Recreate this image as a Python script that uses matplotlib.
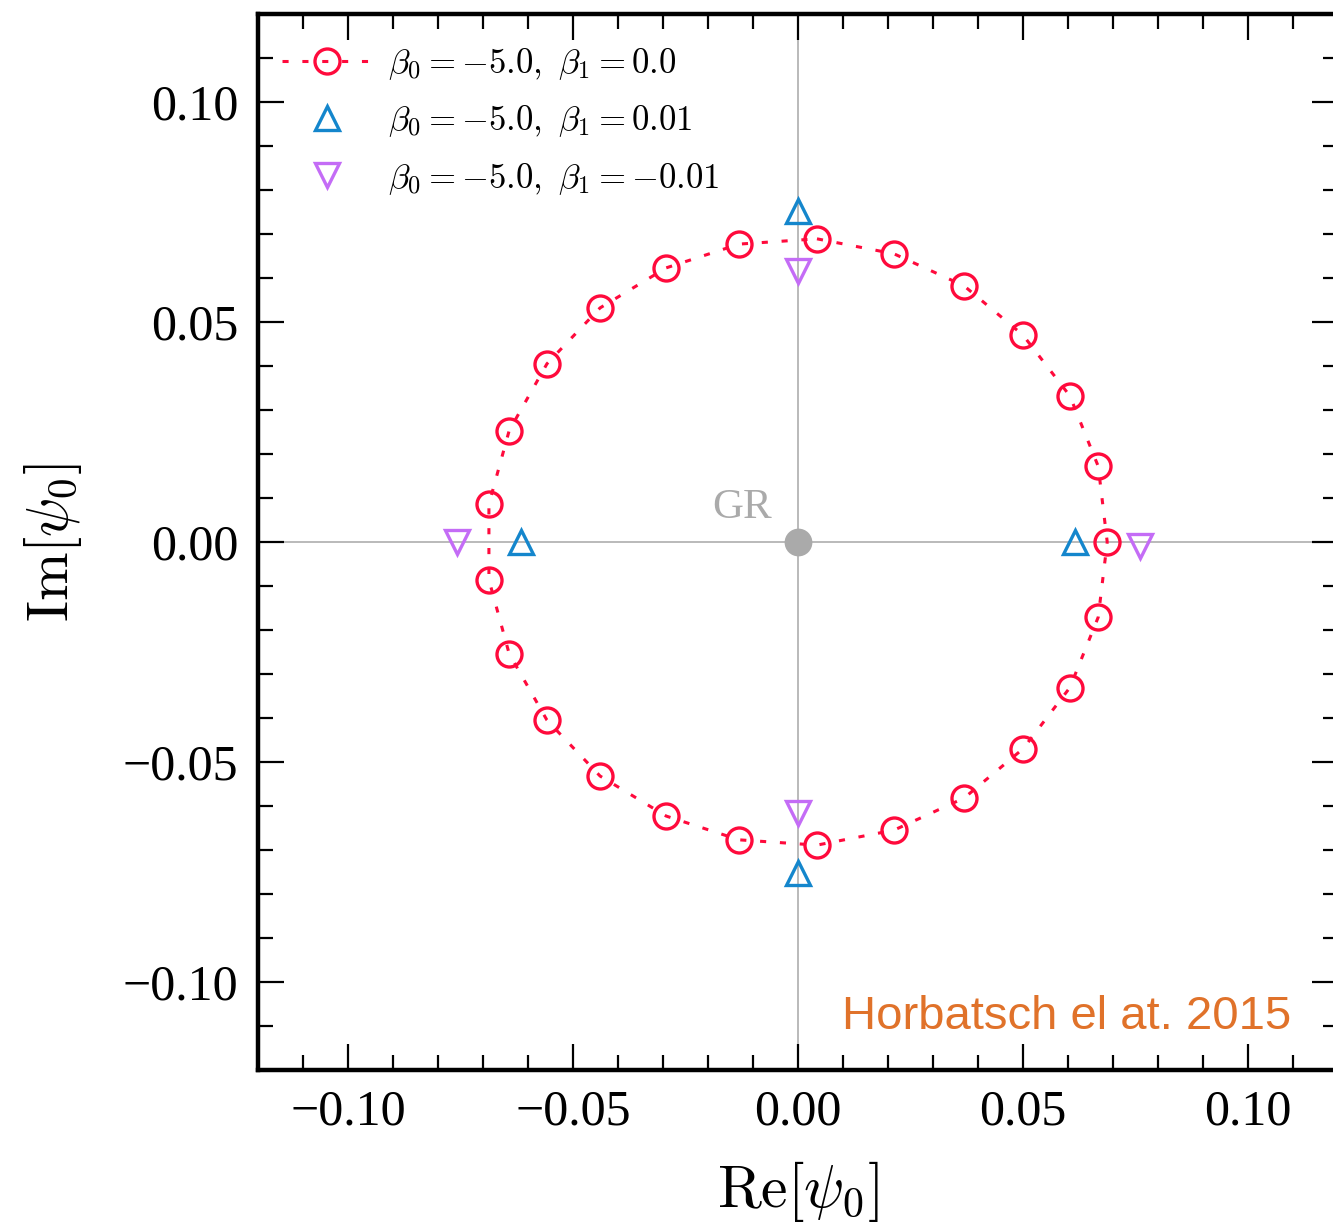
import matplotlib.pyplot as plt
import numpy as np

plt.rcParams['mathtext.fontset'] = 'cm'
plt.rcParams['font.family'] = ['Liberation Serif', 'DejaVu Serif']

# Re/Im of psi_0 for beta_0=-5.0, beta_1=0.0 (closed ring)
re_b1_0 = [0.0042, 0.0213, 0.0369, 0.0500, 0.0604, 0.0667, 0.0687, 0.0667, 0.0604,
           0.0500, 0.0369, 0.0213, 0.0042, -0.0131, -0.0293, -0.0440, -0.0558,
           -0.0642, -0.0687, -0.0687, -0.0642, -0.0558, -0.0440, -0.0293, -0.0131]
im_b1_0 = [0.0689, 0.0655, 0.0582, 0.0470, 0.0332, 0.0172, 0.0, -0.0171, -0.0331,
           -0.0470, -0.0582, -0.0655, -0.0689, -0.0677, -0.0623, -0.0532, -0.0405,
           -0.0254, -0.0086, 0.0086, 0.0253, 0.0405, 0.0532, 0.0623, 0.0677]

# beta_1 = 0.01
re_b1_p = [0.0, -0.0616, 0.0616, 0.0]
im_b1_p = [0.0752, 0.0, 0.0, -0.0752]

# beta_1 = -0.01
re_b1_m = [0.0, -0.0759, 0.0759, 0.0]
im_b1_m = [0.0616, 0.0, -0.001, -0.0615]

labels = [r'$\beta_0 = -5.0,\ \beta_1 = 0.0$',
          r'$\beta_0 = -5.0,\ \beta_1 = 0.01$',
          r'$\beta_0 = -5.0,\ \beta_1 = -0.01$']

red = '#ff0a3c'
blue = '#1486cc'
purple = '#c46cf6'
grey = '#aaaaaa'
dash = (0, (2.0, 4.5))

fig = plt.figure(figsize=(13.33, 12.27), dpi=100)
ax = fig.add_axes([0.1936, 0.128, 0.8102, 0.8606])

ax.axhline(0, color='#b4b4b4', lw=1.3, zorder=1)
ax.axvline(0, color='#b4b4b4', lw=1.3, zorder=1)

xr = np.append(re_b1_0, re_b1_0[0])
yr = np.append(im_b1_0, im_b1_0[0])
ax.plot(xr, yr, color=red, lw=2.2, linestyle=dash, zorder=2)
ax.plot(re_b1_0, im_b1_0, 'o', ms=18, mfc='none', mec=red, mew=2.4, zorder=3)
h0, = ax.plot([], [], 'o', ms=18, mfc='none', mec=red, mew=2.4,
              color=red, lw=2.2, linestyle=dash)
h1, = ax.plot(re_b1_p, im_b1_p, '^', ms=17, mfc='none', mec=blue, mew=2.4,
              ls='none', zorder=3)
h2, = ax.plot(re_b1_m, im_b1_m, 'v', ms=17, mfc='none', mec=purple, mew=2.4,
              ls='none', zorder=3)

ax.plot([0], [0], 'o', ms=20, color=grey, mec='none', zorder=4)
ax.text(-0.0125, 0.0078, 'GR', color=grey, fontsize=31, ha='center', va='center')

ax.text(0.1095, -0.1106, 'Horbatsch el at. 2015', color='#e0722a', fontsize=34,
        family='Liberation Sans', ha='right', va='baseline')

ax.legend([h0, h1, h2], labels, loc='upper left', frameon=False, fontsize=25,
          handlelength=2.6, handletextpad=0.45, labelspacing=0.62,
          borderaxespad=0.0, bbox_to_anchor=(0.009, 0.983))

ax.set_xlim(-0.12, 0.12)
ax.set_ylim(-0.12, 0.12)
ticks = [-0.10, -0.05, 0.0, 0.05, 0.10]
ticklabels = ['\u22120.10', '\u22120.05', '0.00', '0.05', '0.10']
ax.set_xticks(ticks)
ax.set_yticks(ticks)
ax.set_xticks(np.arange(-0.11, 0.115, 0.01), minor=True)
ax.set_yticks(np.arange(-0.11, 0.115, 0.01), minor=True)
ax.set_xticklabels(ticklabels)
ax.set_yticklabels(ticklabels)

ax.tick_params(which='both', direction='in', top=True, right=True, width=1.6,
               labelsize=36)
ax.tick_params(which='major', length=19)
ax.tick_params(which='minor', length=11)
ax.tick_params(axis='x', pad=14)
ax.tick_params(axis='y', pad=14)
for s in ax.spines.values():
    s.set_linewidth(3.2)

ax.set_xlabel(r'$\mathrm{Re}[\psi_0]$', fontsize=43, labelpad=17)
ax.set_ylabel(r'$\mathrm{Im}[\psi_0]$', fontsize=42, labelpad=28)

fig.savefig('out.png', dpi=100)
